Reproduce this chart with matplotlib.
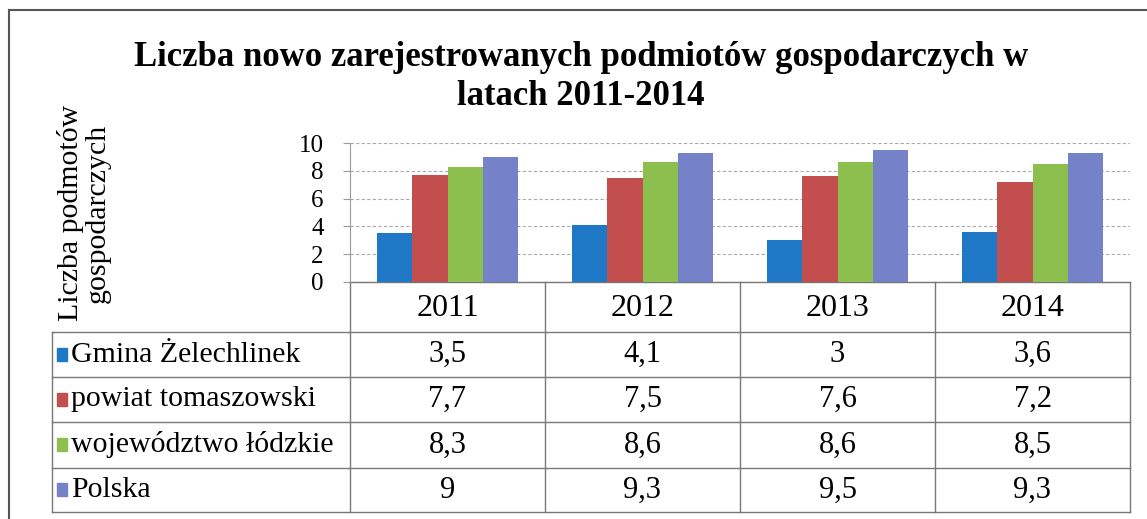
import matplotlib.pyplot as plt
import numpy as np
from matplotlib.patches import Rectangle

plt.rcParams['font.family'] = ['Liberation Serif', 'DejaVu Serif']

# data
years = ['2011', '2012', '2013', '2014']
series = ['Gmina Żelechlinek', 'powiat tomaszowski', 'województwo łódzkie', 'Polska']
gmina = [3.5, 4.1, 3.0, 3.6]
powiat = [7.7, 7.5, 7.6, 7.2]
wojewodztwo = [8.3, 8.6, 8.6, 8.5]
polska = [9.0, 9.3, 9.5, 9.3]
values = [gmina, powiat, wojewodztwo, polska]
colors = ['#1f78c6', '#c24f4e', '#8cbf4d', '#7682c8']

W, H = 1147, 519
fig = plt.figure(figsize=(W / 100, H / 100), dpi=100)


def box(x0, y0, x1, y1):
    return [x0 / W, 1 - y1 / H, (x1 - x0) / W, (y1 - y0) / H]


# background canvas in pixel units for frame, title and table
canvas = fig.add_axes([0, 0, 1, 1])
canvas.set_xlim(0, W)
canvas.set_ylim(H, 0)
canvas.axis('off')

frame_col = '#555555'
canvas.plot([9, 9], [10, H], color=frame_col, lw=1.5)
canvas.plot([9, W], [10, 10], color=frame_col, lw=1.5)

canvas.text(581, 77, 'Liczba nowo zarejestrowanych podmiotów gospodarczych w\nlatach 2011-2014',
            ha='center', va='center', fontsize=25, fontweight='bold', linespacing=1.22)
canvas.text(84, 213, 'Liczba podmotów\ngospodarczych', rotation=90, ha='center', va='center',
            fontsize=21.5, linespacing=1.0)

# bar chart
px0, py0, px1, py1 = 350, 143, 1130, 282
ax = fig.add_axes(box(px0, py0, px1, py1))
ax.set_xlim(0, len(years))
ax.set_ylim(0, 10)
bw = 0.18
x = np.arange(len(years)) + 0.5
for k, vals in enumerate(values):
    ax.bar(x + (k - 1.5) * bw, vals, width=bw, color=colors[k], zorder=3)

ax.set_yticks(range(0, 11, 2))
ax.set_yticklabels([str(t) for t in range(0, 11, 2)], fontsize=18)
ax.tick_params(axis='y', length=5, color='#999999', pad=14)
ax.set_xticks([])
ax.grid(axis='y', color='#aaaaaa', linestyle=(0, (3, 2)), lw=0.8, zorder=0)
for s in ['top', 'right', 'bottom']:
    ax.spines[s].set_visible(False)
ax.spines['left'].set_color('#999999')
ax.patch.set_alpha(0)

# data table
col_edges = [52, px0, 545, 740, 935, px1]
row_edges = [py1, 332, 377, 422, 468, 512]
line_col = '#777777'
canvas.plot([px0, px1], [py1, py1], color=line_col, lw=1)
for y in row_edges[1:]:
    canvas.plot([col_edges[0], col_edges[-1]], [y, y], color=line_col, lw=1)
for xe in col_edges[1:]:
    canvas.plot([xe, xe], [row_edges[0], row_edges[-1]], color=line_col, lw=1)
canvas.plot([col_edges[0], col_edges[0]], [row_edges[1], row_edges[-1]], color=line_col, lw=1)

for j, yr in enumerate(years):
    cx = (col_edges[j + 1] + col_edges[j + 2]) / 2
    canvas.text(cx, (row_edges[0] + row_edges[1]) / 2 + 2, yr, ha='center', va='center', fontsize=23)

for i, name in enumerate(series):
    cy = (row_edges[i + 1] + row_edges[i + 2]) / 2
    canvas.add_patch(Rectangle((57, cy - 7), 10, 13, color=colors[i]))
    canvas.text(71, cy, name, ha='left', va='center', fontsize=21.5)
    for j, v in enumerate(values[i]):
        cx = (col_edges[j + 1] + col_edges[j + 2]) / 2
        canvas.text(cx, cy, f'{v:g}'.replace('.', ','), ha='center', va='center', fontsize=22)

fig.savefig('out.png', dpi=100)
